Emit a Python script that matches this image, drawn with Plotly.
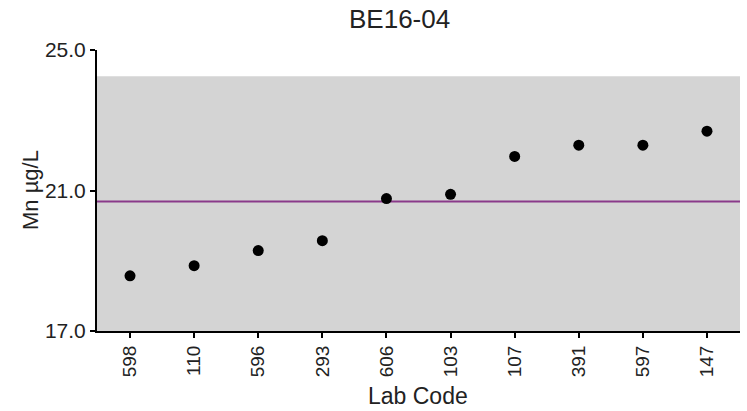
import plotly.graph_objects as go

labs = ["598", "110", "596", "293", "606", "103", "107", "391", "597", "147"]
values = [18.57, 18.86, 19.29, 19.57, 20.77, 20.89, 21.97, 22.29, 22.29, 22.69]
assigned = 20.69
band_low, band_high = 17.0, 24.25
y_ticks = [17.0, 21.0, 25.0]

x_idx = list(range(len(labs)))

W, H = 747, 411
L, R, T, B = 97, 7, 50, 80
pw = W - L - R
ph = H - T - B


def px(x):
    return (x - L) / pw


def py(y):
    return 1 - (y - T) / ph


fig = go.Figure()
fig.add_shape(type="rect", xref="paper", yref="y", x0=0, x1=1, y0=band_low, y1=band_high,
              fillcolor="#d4d4d4", line_width=0, layer="below")
fig.add_shape(type="line", xref="paper", yref="y", x0=0, x1=1, y0=assigned, y1=assigned,
              line=dict(color="#8a3a8a", width=2), layer="below")
fig.add_trace(go.Scatter(x=x_idx, y=values, mode="markers",
                         marker=dict(color="black", size=11), showlegend=False))

font_family = "Liberation Sans, Arial, sans-serif"

fig.add_annotation(text="BE16-04", xref="paper", yref="paper",
                   x=px(399), y=py(19), xanchor="center", yanchor="middle",
                   showarrow=False, font=dict(size=26, color="#222", family=font_family))
fig.add_annotation(text="Lab Code", xref="paper", yref="paper",
                   x=px(418), y=py(396), xanchor="center", yanchor="middle",
                   showarrow=False, font=dict(size=23, color="#222", family=font_family))
fig.add_annotation(text="Mn µg/L", xref="paper", yref="paper",
                   x=px(30), y=py(190), xanchor="center", yanchor="middle",
                   textangle=-90, showarrow=False,
                   font=dict(size=22, color="#222", family=font_family))

fig.update_layout(
    width=W, height=H,
    margin=dict(l=L, r=R, t=T, b=B),
    paper_bgcolor="white", plot_bgcolor="white",
    font=dict(family=font_family, size=18, color="#222"),
    xaxis=dict(range=[-0.515, 9.515], tickmode="array", tickvals=x_idx, ticktext=labs,
               tickangle=-90, showgrid=False, zeroline=False, showline=True,
               linecolor="black", linewidth=2, ticks="outside", ticklen=5,
               tickcolor="black", tickwidth=2, automargin=False,
               tickfont=dict(size=19)),
    yaxis=dict(range=[17.0, 25.0], tickmode="array", tickvals=y_ticks,
               ticktext=["17.0", "21.0", "25.0"], showgrid=False, zeroline=False,
               showline=True, linecolor="black", linewidth=2, ticks="outside",
               ticklen=5, tickcolor="black", tickwidth=2, automargin=False,
               tickfont=dict(size=21)),
)

fig.write_html("out.html", config={"displayModeBar": False},
               post_script="document.body.style.margin='0px';document.body.style.overflow='hidden';")
